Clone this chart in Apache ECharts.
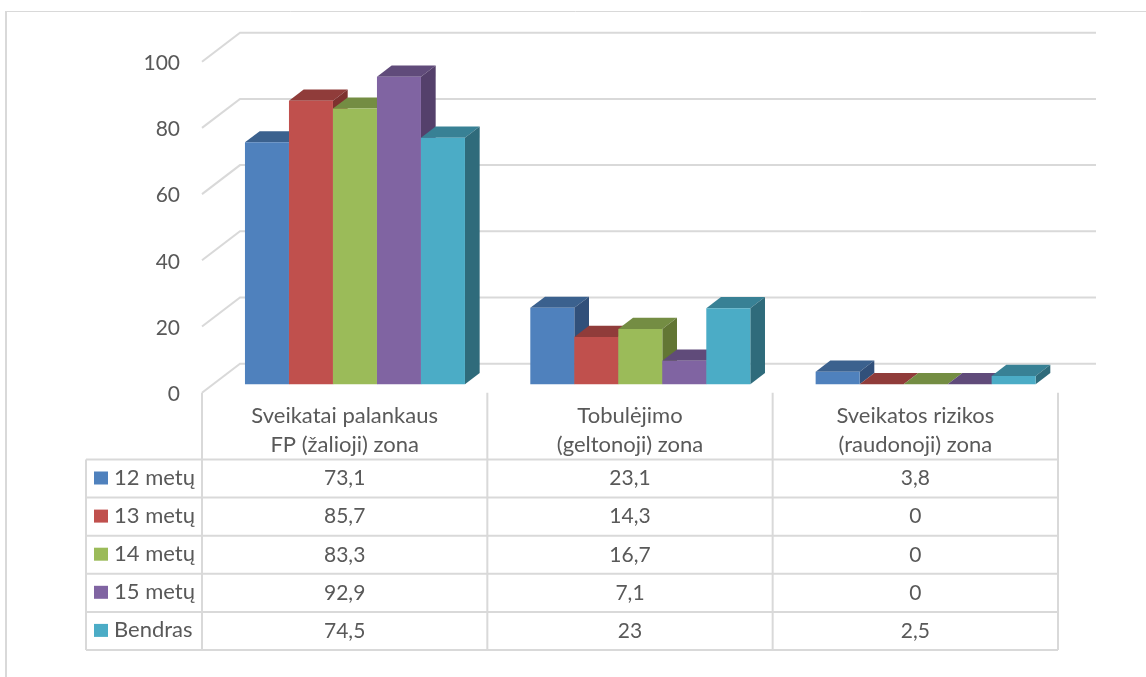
<!DOCTYPE html>
<html>
<head>
<meta charset="utf-8">
<style>html,body{margin:0;padding:0;background:#fff}#main{width:1146px;height:677px}</style>
<script src="https://cdn.jsdelivr.net/npm/echarts@6/dist/echarts.min.js"></script>
</head>
<body>
<div id="main"></div>
<script>
var categories = ['Sveikatai palankaus\nFP (žalioji) zona', 'Tobulėjimo\n(geltonoji) zona', 'Sveikatos rizikos\n(raudonoji) zona'];
var seriesNames = ['12 metų', '13 metų', '14 metų', '15 metų', 'Bendras'];
var age12 = [73.1, 23.1, 3.8];
var age13 = [85.7, 14.3, 0];
var age14 = [83.3, 16.7, 0];
var age15 = [92.9, 7.1, 0];
var total = [74.5, 23, 2.5];
var yTicks = [0, 20, 40, 60, 80, 100];

var seriesValues = [age12, age13, age14, age15, total];
var frontColors = ['#4f81bd', '#c0504d', '#9bbb59', '#8064a2', '#4bacc6'];
var topColors = ['#3b618e', '#903c3a', '#748d43', '#604b7a', '#388195'];
var sideColors = ['#31507a', '#7e312f', '#627634', '#54406b', '#2f6b7b'];

var textColor = '#595959';
var lineColor = '#d9d9d9';
var fontName = 'Lato';
var fontSize = 22;
var digitSize = 21;

// plot box
var gridLeft = 202, gridRight = 1058, gridTop = 61.7, gridBottom = 392.7;
// floor depth: wall is at the far end, bars stand part way in
var wallDx = 38, wallDy = -29;
var barShiftX = 10.3, barShiftY = -8.4;
var barDx = 14.7, barDy = -11.2;
var barRatio = 0.1542;
// table
var rowTop = 459.5, rowHeight = 38.1, tableLeft = 86;

var chart = echarts.init(document.getElementById('main'));

function barItem(seriesIndex) {
    return function (params, api) {
        var cat = api.value(0);
        var p0 = api.coord([cat, 0]);
        var p1 = api.coord([cat, api.value(1)]);
        var w = api.size([1, 0])[0] * barRatio;
        var left = p0[0] + barShiftX + (seriesIndex - 2.5) * w;
        var right = left + w;
        var base = p0[1] + barShiftY;
        var top = p1[1] + barShiftY;
        return {
            type: 'group',
            children: [
                {type: 'polygon', shape: {points: [[left, top], [left + barDx, top + barDy], [right + barDx, top + barDy], [right, top]]},
                    style: {fill: topColors[seriesIndex]}},
                {type: 'polygon', shape: {points: [[right, top], [right + barDx, top + barDy], [right + barDx, base + barDy], [right, base]]},
                    style: {fill: sideColors[seriesIndex]}},
                {type: 'rect', shape: {x: left, y: top, width: w, height: base - top},
                    style: {fill: frontColors[seriesIndex]}}
            ]
        };
    };
}

function wallItem(params, api) {
    var p = api.coord([0, api.value(0)]);
    return {
        type: 'polyline',
        shape: {points: [[gridLeft, p[1]], [gridLeft + wallDx, p[1] + wallDy], [gridRight + wallDx, p[1] + wallDy]]},
        style: {stroke: lineColor, lineWidth: 2, fill: 'none'}
    };
}

function cellItem(params, api) {
    var p = api.coord([api.value(0), 0]);
    return {
        type: 'text',
        style: {
            x: p[0], y: rowTop + rowHeight * (api.value(1) + 0.5),
            text: String(api.value(2)).replace('.', ','),
            fill: textColor, font: digitSize + 'px ' + fontName,
            textAlign: 'center', textVerticalAlign: 'middle'
        }
    };
}

var series = [{
    type: 'custom',
    name: 'wall',
    silent: true,
    renderItem: wallItem,
    encode: {y: 0},
    data: yTicks.map(function (t) { return [t]; }),
    clip: false
}];
seriesValues.forEach(function (vals, i) {
    series.push({
        type: 'custom',
        name: seriesNames[i],
        itemStyle: {color: frontColors[i]},
        renderItem: barItem(i),
        encode: {x: 0, y: 1},
        data: vals.map(function (v, c) { return [c, v]; }),
        clip: false,
        z: 3
    });
});
var cells = [];
seriesValues.forEach(function (vals, r) {
    vals.forEach(function (v, c) { cells.push([c, r, v]); });
});
series.push({
    type: 'custom',
    name: 'cells',
    silent: true,
    renderItem: cellItem,
    encode: {x: 0},
    data: cells,
    clip: false
});

// table rules and picture frame
var rules = [];
function rule(x1, y1, x2, y2, lw) {
    rules.push({type: 'line', shape: {x1: x1, y1: y1, x2: x2, y2: y2}, style: {stroke: lineColor, lineWidth: lw || 2}, silent: true});
}
var tableBottom = rowTop + rowHeight * seriesNames.length;
for (var r = 0; r <= seriesNames.length; r++) {
    rule(tableLeft, rowTop + rowHeight * r, gridRight, rowTop + rowHeight * r);
}
rule(tableLeft, rowTop, tableLeft, tableBottom);
for (var c = 0; c <= categories.length; c++) {
    var cx = gridLeft + (gridRight - gridLeft) / categories.length * c;
    rule(cx, gridBottom, cx, tableBottom);
}
rule(5, 11.5, 1146, 11.5, 1);
rule(6, 11, 6, 677, 2);

var option = {
    animation: false,
    backgroundColor: '#fff',
    textStyle: {fontFamily: fontName},
    grid: {left: gridLeft, top: gridTop, width: gridRight - gridLeft, height: gridBottom - gridTop},
    legend: {
        data: seriesNames,
        orient: 'vertical',
        left: 94,
        top: 467,
        icon: 'rect',
        itemWidth: 14,
        itemHeight: 13,
        itemGap: rowHeight - 22,
        selectedMode: false,
        padding: 0,
        textStyle: {color: textColor, fontSize: fontSize, fontFamily: fontName, padding: [0, 0, 0, 1]}
    },
    xAxis: {
        type: 'category',
        data: categories,
        axisLine: {show: false},
        axisTick: {show: false},
        splitLine: {show: false},
        axisLabel: {interval: 0, margin: 9, color: textColor, fontSize: fontSize, fontFamily: fontName, lineHeight: 29}
    },
    yAxis: {
        type: 'value',
        min: 0,
        max: 100,
        interval: 20,
        axisLine: {show: false},
        axisTick: {show: false},
        splitLine: {show: false},
        axisLabel: {
            margin: 22,
            formatter: '{a|{value}}',
            rich: {a: {padding: [3, 0, 0, 0], color: textColor, fontSize: digitSize, fontFamily: fontName}}
        }
    },
    graphic: rules,
    series: series
};
chart.setOption(option);
</script>
</body>
</html>
